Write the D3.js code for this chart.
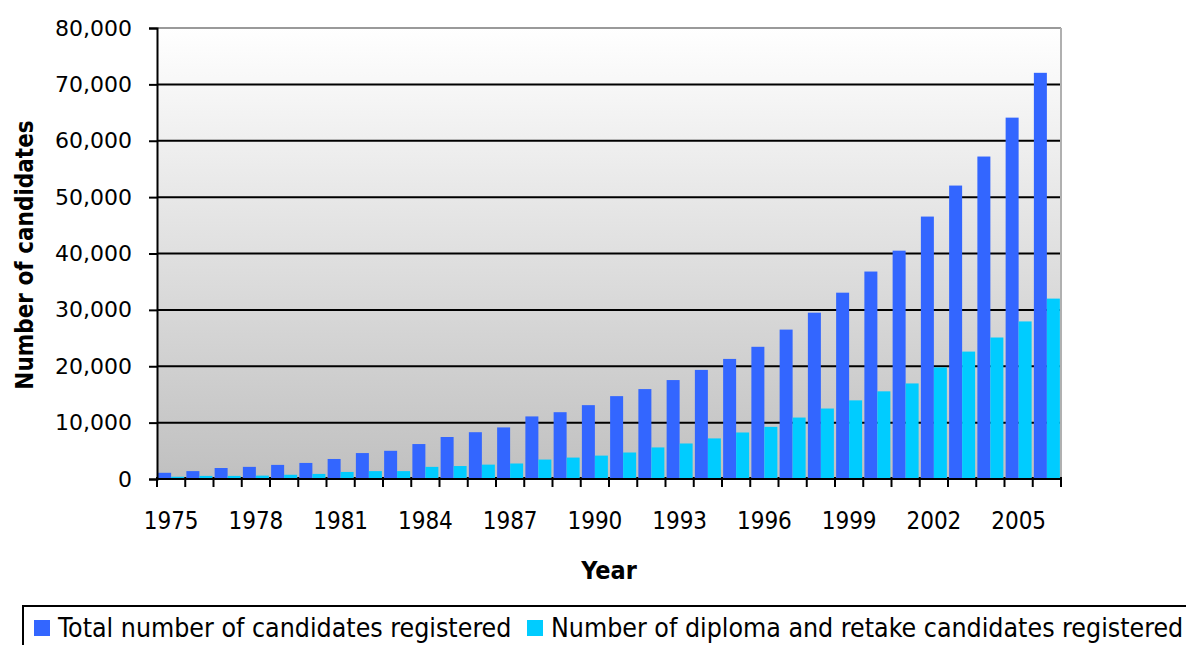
<!DOCTYPE html>
<html><head><meta charset="utf-8">
<script src="https://cdn.jsdelivr.net/npm/d3@7"></script>
<style>body{margin:0;background:#fff}svg{display:block}text{font-family:"DejaVu Sans",sans-serif}
.cond{font-family:"DejaVu Sans Condensed","DejaVu Sans",sans-serif;font-stretch:condensed}</style>
</head><body>
<svg id="c" width="1186" height="645"></svg>
<script>
const years = ["1975","1976","1977","1978","1979","1980","1981","1982","1983","1984","1985","1986","1987","1988","1989","1990","1991","1992","1993","1994","1995","1996","1997","1998","1999","2000","2001","2002","2003","2004","2005","2006"];
const totalRegistered = [1100,1400,1950,2150,2500,2850,3550,4600,5000,6200,7450,8300,9150,11100,11850,13100,14700,15950,17550,19350,21300,23450,26500,29500,33050,36800,40500,46550,52050,57200,64100,72050];
const diplomaRetake = [400,550,550,600,750,900,1250,1400,1400,2150,2300,2550,2750,3450,3800,4150,4700,5600,6300,7200,8250,9250,10900,12500,13950,15550,16950,19800,22600,25100,27950,32000];
const seriesNames = ["Total number of candidates registered","Number of diploma and retake candidates registered"];
const seriesColors = ["#3366FF","#00CCFF"];
const yTicks = [0,10000,20000,30000,40000,50000,60000,70000,80000];
const xTickLabels = ["1975","1978","1981","1984","1987","1990","1993","1996","1999","2002","2005"];

const svg = d3.select("#c");
const L=157, R=1061, T=28, B=479;
const defs = svg.append("defs");
const g = defs.append("linearGradient").attr("id","bg").attr("x1",0).attr("y1",0).attr("x2",0).attr("y2",1);
g.append("stop").attr("offset","0%").attr("stop-color","#ffffff");
g.append("stop").attr("offset","100%").attr("stop-color","#c0c0c0");
svg.append("rect").attr("x",L).attr("y",T).attr("width",R-L).attr("height",B-T).attr("fill","url(#bg)");

const x = d3.scaleBand().domain(years).range([L,R]).paddingInner(0.08).paddingOuter(0.04);
const xs = d3.scaleBand().domain([0,1]).range([0,x.bandwidth()]);
const y = d3.scaleLinear().domain([0,80000]).range([B,T]);

// gridlines
svg.append("g").selectAll("line").data(yTicks.filter(d=>d>0&&d<80000)).join("line")
  .attr("x1",L).attr("x2",R).attr("y1",d=>y(d)).attr("y2",d=>y(d))
  .attr("stroke","#000").attr("stroke-width",2);
svg.append("line").attr("x1",L).attr("x2",R).attr("y1",T).attr("y2",T).attr("stroke","#9a9a9a").attr("stroke-width",2);
svg.append("line").attr("x1",R).attr("x2",R).attr("y1",T).attr("y2",B).attr("stroke","#b0b0b0").attr("stroke-width",2);

const series=[totalRegistered,diplomaRetake];
series.forEach((vals,si)=>{
  svg.append("g").selectAll("rect").data(vals).join("rect")
    .attr("x",(d,i)=>x(years[i])+xs(si)).attr("width",xs.bandwidth())
    .attr("y",d=>y(d)).attr("height",d=>B-y(d)).attr("fill",seriesColors[si]);
});

// y axis
const ya = svg.append("g").attr("transform",`translate(${L},0)`)
  .call(d3.axisLeft(y).tickValues(yTicks).tickFormat(d3.format(",")).tickSize(8).tickPadding(17));
ya.select(".domain").attr("stroke","#000").attr("stroke-width",2);
ya.selectAll(".tick line").attr("stroke","#000").attr("stroke-width",2);
ya.selectAll("text").attr("font-size",22).attr("fill","#000").attr("font-family","DejaVu Sans");

// x axis
const xa = svg.append("g").attr("transform",`translate(0,${B})`);
xa.append("line").attr("x1",L).attr("x2",R).attr("stroke","#000").attr("stroke-width",2);
xa.selectAll("line.tk").data(d3.range(years.length+1)).join("line").attr("class","tk")
  .attr("x1",i=>L+i*(R-L)/years.length).attr("x2",i=>L+i*(R-L)/years.length)
  .attr("y1",-2).attr("y2",8).attr("stroke","#000").attr("stroke-width",2);
xa.selectAll("text").data(xTickLabels).join("text").attr("class","cond")
  .attr("x",d=>x(d)+x.bandwidth()/2).attr("y",50).attr("text-anchor","middle")
  .attr("font-size",24).attr("fill","#000").text(d=>d);

// axis titles
svg.append("text").attr("class","cond").attr("transform","translate(33,255) rotate(-90)").attr("text-anchor","middle")
  .attr("font-size",24).attr("font-weight","bold").text("Number of candidates");
svg.append("text").attr("class","cond").attr("x",609).attr("y",579).attr("text-anchor","middle")
  .attr("font-size",25).attr("font-weight","bold").text("Year");

// legend
svg.append("rect").attr("x",23).attr("y",606).attr("width",1180).attr("height",50).attr("fill","#fff").attr("stroke","#000").attr("stroke-width",2);
const lx=[34,527];
seriesNames.forEach((n,i)=>{
  svg.append("rect").attr("x",lx[i]).attr("y",620).attr("width",16).attr("height",16).attr("fill",seriesColors[i]);
  svg.append("text").attr("class","cond").attr("x",lx[i]+24).attr("y",637).attr("font-size",26.5).attr("fill","#000").text(n);
});
</script>
</body></html>
